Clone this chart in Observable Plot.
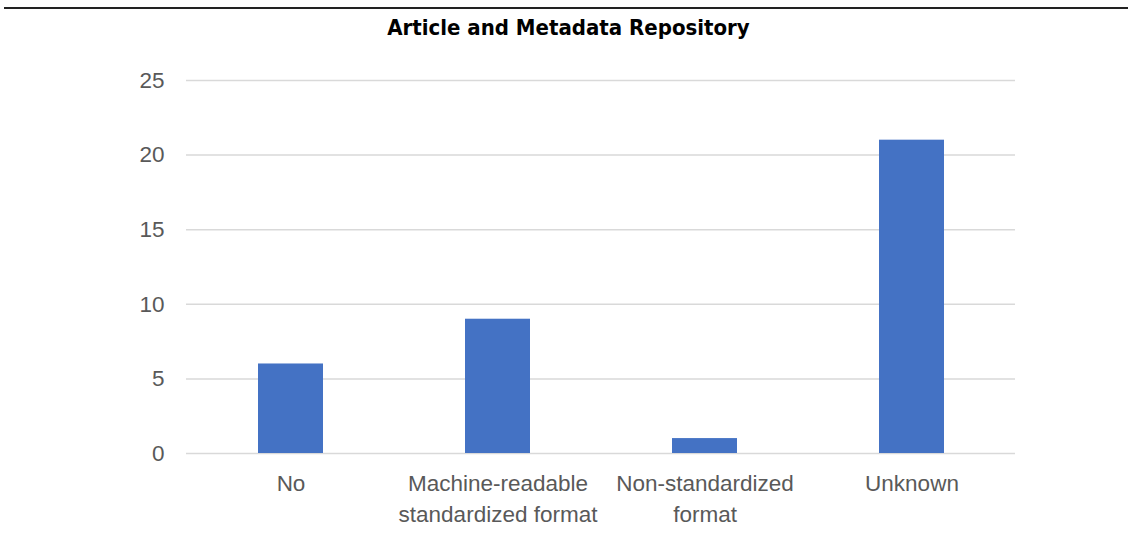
<!DOCTYPE html>
<html>
<head>
<meta charset="utf-8">
<script src="https://cdn.jsdelivr.net/npm/d3@7"></script>
<script src="https://cdn.jsdelivr.net/npm/@observablehq/plot@0.6"></script>
<style>
  html, body { margin: 0; padding: 0; background: #fff; }
  #wrap { position: relative; width: 1137px; height: 535px; }
  #rule { position: absolute; left: 4px; top: 7px; width: 1124px; height: 0; border-top: 2px solid #222; }
  #title { position: absolute; left: 0; top: 13px; width: 1137px; text-align: center;
    font-family: "Liberation Sans Narrow", "DejaVu Sans Condensed", sans-serif; font-weight: bold;
    font-size: 22px; color: #000; line-height: 30px; }
  #chart { position: absolute; left: 0; top: 45px; }
</style>
</head>
<body>
<div id="wrap">
  <div id="rule"></div>
  <div id="title">Article and Metadata Repository</div>
  <div id="chart"></div>
</div>
<script>
const categories = ["No", "Machine-readable\nstandardized format", "Non-standardized\nformat", "Unknown"];
const values = [6, 9, 1, 21];
const yTicks = [0, 5, 10, 15, 20, 25];

const data = categories.map((c, i) => ({category: c, value: values[i]}));

const chart = Plot.plot({
  width: 1137,
  height: 490,
  marginTop: 35,
  marginBottom: 82,
  marginLeft: 186,
  marginRight: 122,
  style: {fontFamily: "Liberation Sans, Arial, sans-serif", fontSize: "22.5px", color: "#595959", background: "#fff"},
  x: {domain: categories, paddingInner: 0.686, paddingOuter: 0.343, label: null},
  y: {domain: [0, 25], label: null},
  marks: [
    Plot.gridY(yTicks, {stroke: "#d9d9d9", strokeOpacity: 1, strokeWidth: 1.5}),
    Plot.barY(data, {x: "category", y: "value", fill: "#4472C4"}),
    Plot.axisY(yTicks, {tickSize: 0, tickPadding: 22, fill: "#595959", fontSize: 22.5}),
    Plot.axisX({tickSize: 0, tickPadding: 15, fill: "#595959", fontSize: 22.5, lineHeight: 1.4})
  ]
});
document.getElementById("chart").appendChild(chart);
</script>
</body>
</html>
